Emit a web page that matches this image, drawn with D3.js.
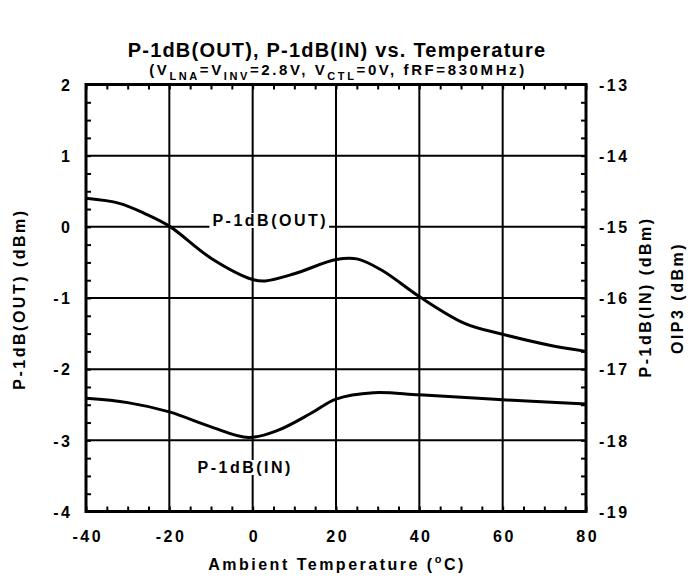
<!DOCTYPE html>
<html><head><meta charset="utf-8">
<script src="https://cdn.jsdelivr.net/npm/d3@7"></script>
<style>body{margin:0;background:#fff;} text{font-family:"Liberation Sans",Arial,sans-serif;font-weight:bold;fill:#000;}</style>
</head><body><svg id="c" width="690" height="581"></svg>
<script>
// ---- data ----
const xTicks = [-40,-20,0,20,40,60,80];
const leftTicks = [2,1,0,-1,-2,-3,-4];
const rightTicks = [-13,-14,-15,-16,-17,-18,-19];
const outTemp = [-40,-32,-26,-20,-10,0,3,10,20,25,31,40,51,60,71,80];
const outVal  = [0.40,0.33,0.19,0.01,-0.44,-0.74,-0.76,-0.66,-0.46,-0.45,-0.61,-0.98,-1.36,-1.51,-1.66,-1.75];
const inTemp = [-40,-30,-20,-10,-1,6,14,20,29,40,60,80];
const inVal  = [-17.41,-17.47,-17.60,-17.81,-17.96,-17.86,-17.62,-17.42,-17.33,-17.36,-17.43,-17.49];

const svg = d3.select("#c");
const L=86, R=586, T=84.5, B=511.5;
const x = d3.scaleLinear().domain([-40,80]).range([L,R]);
const yL = d3.scaleLinear().domain([-4,2]).range([B,T]);
const yR = d3.scaleLinear().domain([-19,-13]).range([B,T]);
const fmt = d => String(d);

// gridlines
const g = svg.append("g");
g.selectAll(".vg").data(xTicks.slice(1,-1)).join("line")
  .attr("x1",d=>x(d)).attr("x2",d=>x(d)).attr("y1",T).attr("y2",B)
  .attr("stroke","#000").attr("stroke-width",2);
g.selectAll(".hg").data(leftTicks.slice(1,-1)).join("line")
  .attr("y1",d=>yL(d)).attr("y2",d=>yL(d)).attr("x1",L).attr("x2",R)
  .attr("stroke","#000").attr("stroke-width",2);

// minor ticks
function styleAxis(sel){sel.select(".domain").remove();sel.selectAll("line").attr("stroke","#000").attr("stroke-width",2);sel.selectAll("text").remove();}
const xMinor = d3.range(-40,81,5);
const yMinor = d3.range(-4,2.01,0.25);
svg.append("g").attr("transform",`translate(0,${B})`).call(d3.axisBottom(x).tickValues(xMinor).tickSize(-5)).call(styleAxis);
svg.append("g").attr("transform",`translate(0,${T})`).call(d3.axisTop(x).tickValues(xMinor).tickSize(-5)).call(styleAxis);
svg.append("g").attr("transform",`translate(${L},0)`).call(d3.axisLeft(yL).tickValues(yMinor).tickSize(-5)).call(styleAxis);
svg.append("g").attr("transform",`translate(${R},0)`).call(d3.axisRight(yL).tickValues(yMinor).tickSize(-5)).call(styleAxis);

// frame
svg.append("rect").attr("x",L).attr("y",T).attr("width",R-L).attr("height",B-T)
  .attr("fill","none").attr("stroke","#000").attr("stroke-width",3);

// tick labels
const fs=16, ls=2.5;
function styleLab(s){s.select(".domain").remove();s.selectAll("text").attr("font-size",fs).attr("font-family",null).attr("letter-spacing",ls);}
svg.append("g").attr("transform",`translate(${ls/2},${B})`).call(d3.axisBottom(x).tickValues(xTicks).tickSize(0).tickPadding(22).tickFormat(fmt))
  .call(styleLab).call(s=>s.selectAll("text").attr("dy",null).attr("y",30));
svg.append("g").attr("transform",`translate(${L+ls},0)`).call(d3.axisLeft(yL).tickValues(leftTicks).tickSize(0).tickPadding(16).tickFormat(fmt))
  .call(styleLab).call(s=>s.selectAll("text").attr("dy","0.36em"));
svg.append("g").attr("transform",`translate(${R},0)`).call(d3.axisRight(yR).tickValues(rightTicks).tickSize(0).tickPadding(13).tickFormat(fmt))
  .call(styleLab).call(s=>s.selectAll("text").attr("dy","0.36em"));

// curves
const lineOut = d3.line().x((d,i)=>x(outTemp[i])).y(d=>yL(d)).curve(d3.curveCatmullRom.alpha(0.5));
const lineIn = d3.line().x((d,i)=>x(inTemp[i])).y(d=>yR(d)).curve(d3.curveCatmullRom.alpha(0.5));
svg.append("path").attr("d",lineOut(outVal)).attr("fill","none").attr("stroke","#000").attr("stroke-width",3);
svg.append("path").attr("d",lineIn(inVal)).attr("fill","none").attr("stroke","#000").attr("stroke-width",3);

// curve labels
function lab(txt,cx,cy){
  const t=svg.append("text").attr("x",cx+ls/2).attr("y",cy).attr("text-anchor","middle").attr("font-size",fs).attr("letter-spacing",ls).text(txt);
  const bb=t.node().getBBox();
  svg.insert("rect",()=>t.node()).attr("x",bb.x-3).attr("y",bb.y+1).attr("width",bb.width+4).attr("height",bb.height-2).attr("fill","#fff");
}
lab("P-1dB(OUT)",269,226);
lab("P-1dB(IN)",244,473);

// titles
svg.append("text").attr("x",337).attr("y",57).attr("text-anchor","middle").attr("font-size",20).attr("letter-spacing",1.2).text("P-1dB(OUT), P-1dB(IN) vs. Temperature");
const sub = svg.append("text").attr("x",338).attr("y",75).attr("text-anchor","middle").attr("font-size",15).attr("letter-spacing",2.6);
const parts=[["(V",0],["LNA",1],["=V",0],["INV",1],["=2.8V, V",0],["CTL",1],["=0V, fRF=830MHz)",0]];
parts.forEach(([t,s],i)=>{
  const ts=sub.append("tspan").text(t).attr("font-size",s?11:15);
  if(s) ts.attr("dy",5); else if(i>0 && parts[i-1][1]) ts.attr("dy",-5);
});
const xt = svg.append("text").attr("x",337).attr("y",570).attr("text-anchor","middle").attr("font-size",fs).attr("letter-spacing",ls);
xt.append("tspan").text("Ambient Temperature (");
xt.append("tspan").text("o").attr("font-size",11).attr("dy",-7);
xt.append("tspan").text("C)").attr("dy",7);

function vlab(txt,cx,cy){svg.append("text").attr("transform",`translate(${cx},${cy}) rotate(-90)`).attr("text-anchor","middle").attr("font-size",fs).attr("letter-spacing",ls).text(txt);}
vlab("P-1dB(OUT) (dBm)",25,299);
vlab("P-1dB(IN) (dBm)",651,297);
vlab("OIP3 (dBm)",683,298);
</script></body></html>
